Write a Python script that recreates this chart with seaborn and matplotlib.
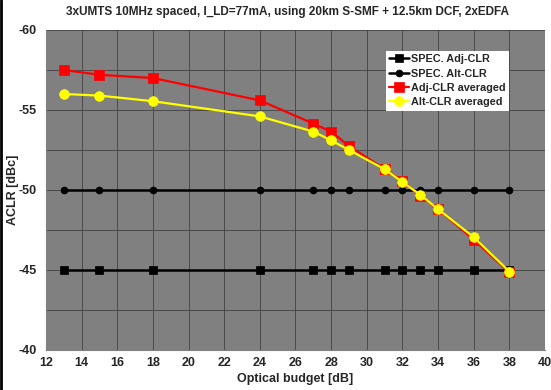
import numpy as np
import pandas as pd
import matplotlib
matplotlib.use("Agg")
import matplotlib.pyplot as plt
import seaborn as sns

### Data
budget = [13, 15, 18, 24, 27, 28, 29, 31, 32, 33, 34, 36, 38]
spec_adj = [-45] * len(budget)
spec_alt = [-50] * len(budget)
adj_avg = [-57.5, -57.2, -57.0, -55.6, -54.15, -53.65, -52.75, -51.3, -50.55, -49.65, -48.8, -46.9, -44.85]
alt_avg = [-56.0, -55.9, -55.55, -54.6, -53.65, -53.1, -52.5, -51.3, -50.5, -49.7, -48.8, -47.05, -44.9]

series_names = ["SPEC. Adj-CLR", "SPEC. Alt-CLR", "Adj-CLR averaged", "Alt-CLR averaged"]

sns.set_style("white")
plt.rcParams['font.family'] = ['Liberation Sans', 'DejaVu Sans']
plt.rcParams['font.weight'] = 'bold'
plt.rcParams['axes.unicode_minus'] = False

fig = plt.figure(figsize=(5.51, 3.90), dpi=100)
ax = fig.add_axes([46/551, 1-350/390, (545-46)/551, 320/390])
ax.set_facecolor('#808080')

styles = [
    dict(color='black', marker='s', markersize=6, lw=1.8),
    dict(color='black', marker='o', markersize=5, lw=1.8),
    dict(color='#ff0000', marker='s', markersize=7, lw=1.6),
    dict(color='#ffff00', marker='o', markersize=7, lw=1.6),
]
for name, vals, st in zip(series_names, [spec_adj, spec_alt, adj_avg, alt_avg], styles):
    sns.lineplot(x=budget, y=vals, ax=ax, label=name, color=st['color'], marker=st['marker'],
                 markersize=st['markersize'], linewidth=st['lw'], markeredgecolor=st['color'],
                 markeredgewidth=0.5)

ax.set_xlim(12, 40)
ax.set_ylim(-40, -60)
ax.set_xticks(np.arange(12, 41, 2))
ax.set_yticks([-60, -55, -50, -45, -40])
ax.set_yticks(np.arange(-57.5, -40, 5), minor=True)
ax.grid(True, which='both', color='#4a4a4a', lw=0.7)
ax.set_axisbelow(True)
for s in ['top', 'right']:
    ax.spines[s].set_visible(False)
ax.spines['left'].set_color('#808080')
ax.spines['bottom'].set_color('#808080')
ax.tick_params(axis='y', which='major', length=5, color='#808080', labelsize=9, pad=2)
ax.tick_params(axis='y', which='minor', length=0)
ax.tick_params(axis='x', length=0, labelsize=9, pad=5)
for lab in ax.get_xticklabels() + ax.get_yticklabels():
    lab.set_fontweight('bold')

ax.set_xlabel('Optical budget [dB]', fontsize=9, fontweight='bold', labelpad=3)
ax.set_ylabel('ACLR [dBc]', fontsize=9, fontweight='bold')
ax.yaxis.set_label_coords((19-46)/499, 0.5)

fig.text(287/551, 1-12/390, '3xUMTS 10MHz spaced, I_LD=77mA, using 20km S-SMF + 12.5km DCF, 2xEDFA',
         ha='center', va='center', fontsize=8.5, fontweight='bold')

leg = ax.legend(loc='upper right', bbox_to_anchor=((509-46)/499, (350-51)/320), bbox_transform=ax.transAxes,
                frameon=True, fancybox=False, framealpha=1, edgecolor='white', fontsize=7.8,
                handlelength=1.8, handletextpad=0.2, borderpad=0.3, labelspacing=0.4, borderaxespad=0)
leg.get_frame().set_linewidth(0)
for t in leg.get_texts():
    t.set_fontweight('bold')

# left border line of the original figure
fig.add_artist(plt.Line2D([0.002, 0.002], [0, 1], color='black', lw=2, transform=fig.transFigure))

fig.savefig('out.png', dpi=100)
